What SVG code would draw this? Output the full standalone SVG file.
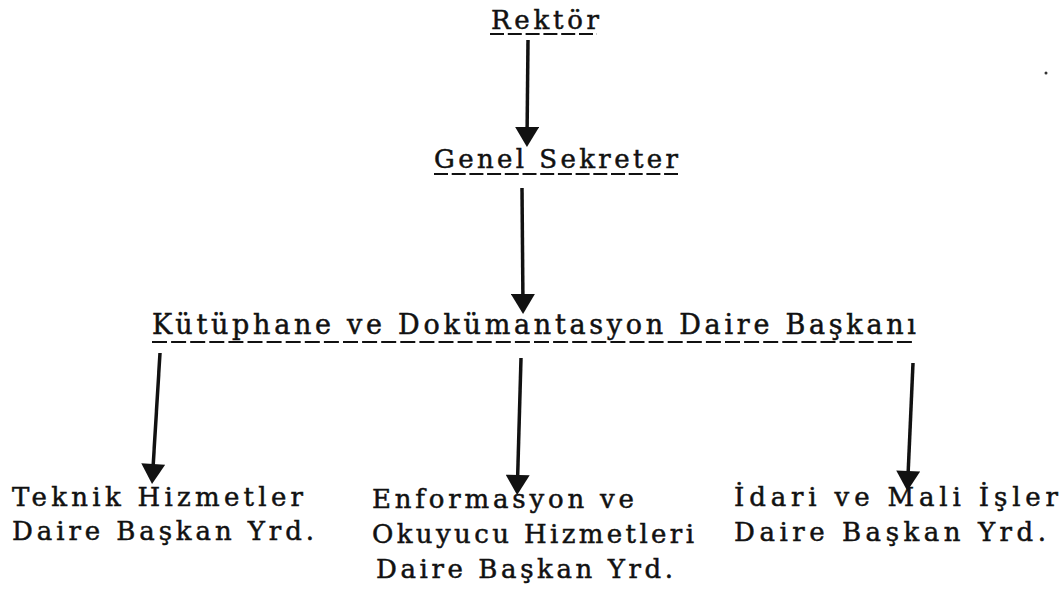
<svg xmlns="http://www.w3.org/2000/svg" width="1063" height="596" viewBox="0 0 1063 596">
  <style>
    .t { font-family: "DejaVu Serif", "Liberation Serif", serif; font-size: 26px; fill: #111; stroke: #111; stroke-width: 0.5; }
    .t.big { font-size: 27px; }
    .ul { stroke: #111; stroke-width: 2.2; fill: none; }
    .edge { stroke: #111; stroke-width: 3.5; fill: none; marker-end: url(#head); }
  </style>
  <defs>
    <marker id="head" markerUnits="userSpaceOnUse" markerWidth="24" markerHeight="24" viewBox="0 0 20 24" refX="14" refY="12" orient="auto">
      <path d="M0,0 L20,12 L0,24 Z" fill="#111"/>
    </marker>
  </defs>

  <rect width="1063" height="596" fill="#fff"/>

  <!-- connectors -->
  <g id="connectors">
    <path class="edge" d="M528,40 L527,141"/>
    <path class="edge" d="M522,188 L523,308"/>
    <path class="edge" d="M160,353 L152.4,478"/>
    <path class="edge" d="M521,358 L517.3,489"/>
    <path class="edge" d="M913,363 L907.6,485"/>
  </g>

  <!-- top: Rektör -->
  <g id="rektor">
    <text class="t" x="491" y="29" textLength="108" lengthAdjust="spacing">Rektör</text>
    <line class="ul" x1="490" y1="34" x2="597" y2="34" stroke-dasharray="14 3.8"/>
  </g>

  <g id="genel-sekreter">
    <text class="t" x="434" y="168" textLength="244" lengthAdjust="spacing">Genel Sekreter</text>
    <line class="ul" x1="434" y1="174" x2="678" y2="174" stroke-dasharray="14 3.7"/>
  </g>

  <g id="daire-baskani">
    <text class="t big" x="152" y="334" textLength="764" lengthAdjust="spacing">Kütüphane ve Dokümantasyon Daire Başkanı</text>
    <line class="ul" x1="152" y1="342" x2="916" y2="342" stroke-dasharray="15 4.1"/>
  </g>

  <g id="teknik">
    <text class="t" x="12" y="506" textLength="291" lengthAdjust="spacing">Teknik Hizmetler</text>
    <text class="t" x="12" y="540" textLength="302" lengthAdjust="spacing">Daire Başkan Yrd.</text>
  </g>

  <g id="enformasyon">
    <text class="t" x="372" y="508" textLength="262" lengthAdjust="spacing">Enformasyon ve</text>
    <text class="t" x="372" y="543" textLength="322" lengthAdjust="spacing">Okuyucu Hizmetleri</text>
    <text class="t" x="376" y="578" textLength="297" lengthAdjust="spacing">Daire Başkan Yrd.</text>
  </g>

  <g id="idari">
    <text class="t" x="734" y="506" textLength="324" lengthAdjust="spacing">İdari ve Mali İşler</text>
    <text class="t" x="734" y="541" textLength="312" lengthAdjust="spacing">Daire Başkan Yrd.</text>
  </g>

  <circle cx="1046" cy="73" r="1.5" fill="#333"/>
</svg>
